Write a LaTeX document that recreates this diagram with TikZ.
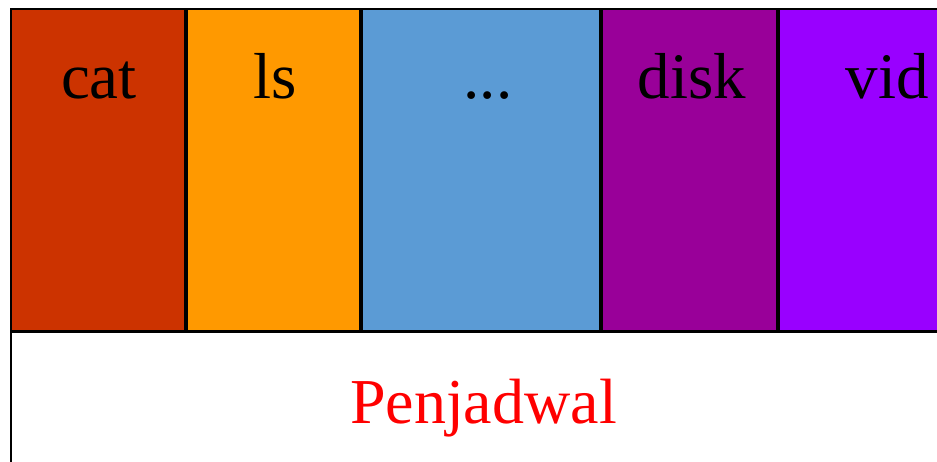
\documentclass[tikz,border=0pt]{standalone}
\usepackage{fontspec}
\setmainfont{Liberation Serif}
\definecolor{catcol}{HTML}{CC3300}
\definecolor{lscol}{HTML}{FF9900}
\definecolor{dotcol}{HTML}{5B9BD5}
\definecolor{diskcol}{HTML}{990099}
\definecolor{vidcol}{HTML}{9900FF}
\tikzset{
  proc/.style={draw=black,line width=2pt},
  proclabel/.style={anchor=base,inner sep=0pt,font=\rmfamily\fontsize{65}{70}\selectfont},
}
\begin{document}
\begin{tikzpicture}[x=1pt,y=1pt]

% Canvas, cut at the right and bottom edges
\useasboundingbox (0,0) rectangle (937,461);
\clip (0,0) rectangle (937,461);
\fill[white] (0,0) rectangle (937,461);

% Processes
\draw[proc,fill=catcol] (11.2,130) rectangle (184.6,452);
\draw[proc,fill=lscol] (187.4,130) rectangle (359.6,452);
\draw[proc,fill=dotcol] (362.4,130) rectangle (599.6,452);
\draw[proc,fill=diskcol] (602.4,130) rectangle (776.6,452);
\draw[proc,fill=vidcol] (779.4,130) rectangle (1000,452);

% Scheduler
\draw[proc,fill=white] (11.2,-20) rectangle (1000,129.5);

% Labels
\node[proclabel] (cat) at (99,362) {cat};
\node[proclabel] (ls) at (275,362) {ls};
\node[proclabel] (dots) at (488,362) {...};
\node[proclabel] (disk) at (692,362) {disk};
\node[proclabel] (vid) at (887.5,362) {vid};
\node[proclabel,text=red,font=\rmfamily\fontsize{64}{70}\selectfont]
  (sched) at (483.5,38) {Penjadwal};

\end{tikzpicture}
\end{document}
